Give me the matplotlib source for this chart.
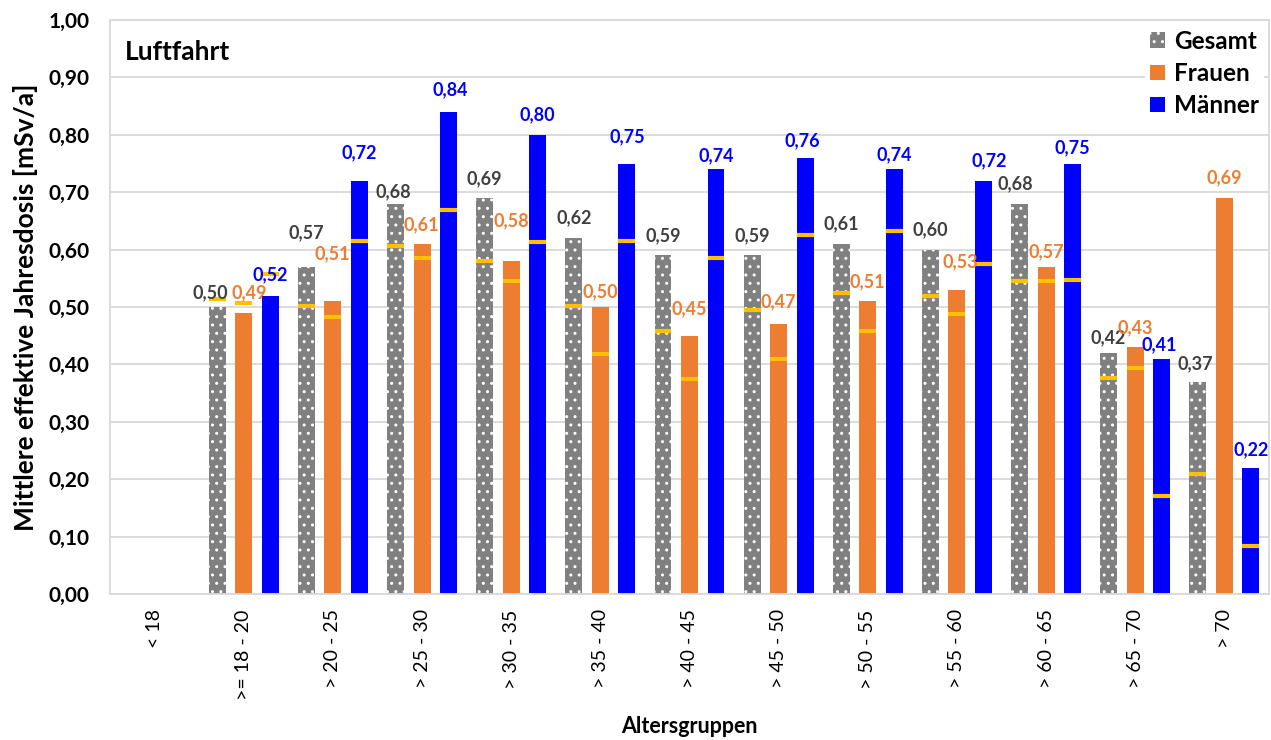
import numpy as np
import matplotlib.pyplot as plt
from matplotlib.ticker import FuncFormatter, MultipleLocator
from matplotlib.patches import Patch

plt.rcParams['font.family'] = ['Lato', 'DejaVu Sans']
plt.rcParams['hatch.linewidth'] = 1.0

# Altersgruppen and mean dose values (mSv/a)
categories = ["< 18", ">= 18 - 20", "> 20 - 25", "> 25 - 30", "> 30 - 35", "> 35 - 40",
              "> 40 - 45", "> 45 - 50", "> 50 - 55", "> 55 - 60", "> 60 - 65",
              "> 65 - 70", "> 70"]
gesamt = [np.nan, 0.50, 0.57, 0.68, 0.69, 0.62, 0.59, 0.59, 0.61, 0.60, 0.68, 0.42, 0.37]
frauen = [np.nan, 0.49, 0.51, 0.61, 0.58, 0.50, 0.45, 0.47, 0.51, 0.53, 0.57, 0.43, 0.69]
maenner = [np.nan, 0.52, 0.72, 0.84, 0.80, 0.75, 0.74, 0.76, 0.74, 0.72, 0.75, 0.41, 0.22]

# yellow reference markers inside the bars
gesamt_ref = [np.nan, 0.514, 0.502, 0.607, 0.581, 0.501, 0.459, 0.494, 0.524, 0.519, 0.545, 0.376, 0.209]
frauen_ref = [np.nan, 0.507, 0.482, 0.586, 0.545, 0.418, 0.375, 0.410, 0.459, 0.488, 0.545, 0.393, np.nan]
maenner_ref = [np.nan, 0.557, 0.615, 0.669, 0.614, 0.615, 0.586, 0.625, 0.633, 0.575, 0.547, 0.171, 0.083]

# how far (pixels) each value label sits above its bar
lift_gesamt = [0, 14, 34, 12, 19, 20, 20, 20, 20, 20, 20, 15, 18]
lift_frauen = [0, 20, 48, 19, 40, 15, 27, 22, 20, 28, 15, 19, 20]
lift_maenner = [0, 21, 28, 22, 20, 27, 13, 17, 14, 20, 16, 14, 18]
# sideways nudge (pixels) of the labels
shift_gesamt = [0, -7, 0, -2, 0, 0, 0, 0, 0, 0, -4, -1, -3]
shift_frauen = [0, 5, -1, -1, 0, 0, 0, 0, 0, 3, 0, 0, 0]
shift_maenner = [0, 0, 0, 2, 0, 0, 0, -3, 0, 6, 0, -2, 0]

GRAY = "#808080"
ORANGE = "#ED7D31"
BLUE = "#0000FF"
YELLOW = "#FFC000"
GRID = "#D9D9D9"

fig = plt.figure(figsize=(12.71, 7.40), dpi=100)
ax = fig.add_axes([110 / 1271, 1 - 594 / 740, (1269 - 110) / 1271, (594 - 20) / 740])

x = np.arange(len(categories))
w = 0.19
off = 0.297

series = [
    (gesamt, gesamt_ref, lift_gesamt, shift_gesamt, -off, GRAY, "#404040", "Gesamt"),
    (frauen, frauen_ref, lift_frauen, shift_frauen, 0.0, ORANGE, ORANGE, "Frauen"),
    (maenner, maenner_ref, lift_maenner, shift_maenner, off, BLUE, BLUE, "Männer"),
]

for vals, refs, lifts, shifts, dx, col, tcol, name in series:
    vals = np.array(vals)
    xs = x + dx
    if name == "Gesamt":
        ax.bar(xs, vals, w, color=col, edgecolor="white", linewidth=0, hatch="..", zorder=2)
    else:
        ax.bar(xs, vals, w, color=col, linewidth=0, zorder=2)
    ax.hlines(refs, xs - w / 2, xs + w / 2, colors=YELLOW, linewidth=3, zorder=3)
    for xi, v, lift, sh in zip(xs, vals, lifts, shifts):
        if np.isnan(v):
            continue
        ax.annotate(f"{v:.2f}".replace(".", ","), (xi, v), xytext=(sh, lift),
                    textcoords="offset pixels", ha="center", va="center",
                    color=tcol, fontsize=13, fontweight="bold", zorder=4)

ax.set_xlim(-0.5, len(categories) - 0.5)
ax.set_ylim(0, 1.0)
ax.yaxis.set_major_locator(MultipleLocator(0.1))
ax.yaxis.set_major_formatter(FuncFormatter(lambda v, p: f"{v:.2f}".replace(".", ",")))
ax.grid(axis="y", color=GRID, linewidth=1.3, zorder=0)
ax.set_axisbelow(True)
for s in ax.spines.values():
    s.set_color(GRID)
    s.set_linewidth(1.3)

ax.set_xticks(x)
ax.set_xticklabels(categories, rotation=90, va="top", ha="center", fontsize=14)
ax.tick_params(axis="x", length=0, pad=11)
ax.tick_params(axis="y", length=0, pad=15, labelsize=15)
for lbl in ax.get_yticklabels():
    lbl.set_fontweight("bold")

ax.set_ylabel("Mittlere effektive Jahresdosis [mSv/a]", fontsize=19, fontweight="bold", labelpad=7)
ax.set_xlabel("Altersgruppen", fontsize=15.5, fontweight="bold", labelpad=12)

ax.text(0.013, 0.945, "Luftfahrt", transform=ax.transAxes, fontsize=19, fontweight="bold",
        ha="left", va="center", color="black")

handles = [
    Patch(facecolor=GRAY, edgecolor="white", hatch="..", linewidth=0, label="Gesamt"),
    Patch(facecolor=ORANGE, linewidth=0, label="Frauen"),
    Patch(facecolor=BLUE, linewidth=0, label="Männer"),
]
leg = ax.legend(handles=handles, loc="upper right", bbox_to_anchor=(1.0, 1.0),
                frameon=True, framealpha=1, facecolor="white", edgecolor="none",
                fontsize=17.5, handlelength=0.6, handleheight=0.6, handletextpad=0.4,
                labelspacing=0.38, borderpad=0.2, borderaxespad=0.2)
for t in leg.get_texts():
    t.set_fontweight("bold")

fig.savefig("out.png", dpi=100)
